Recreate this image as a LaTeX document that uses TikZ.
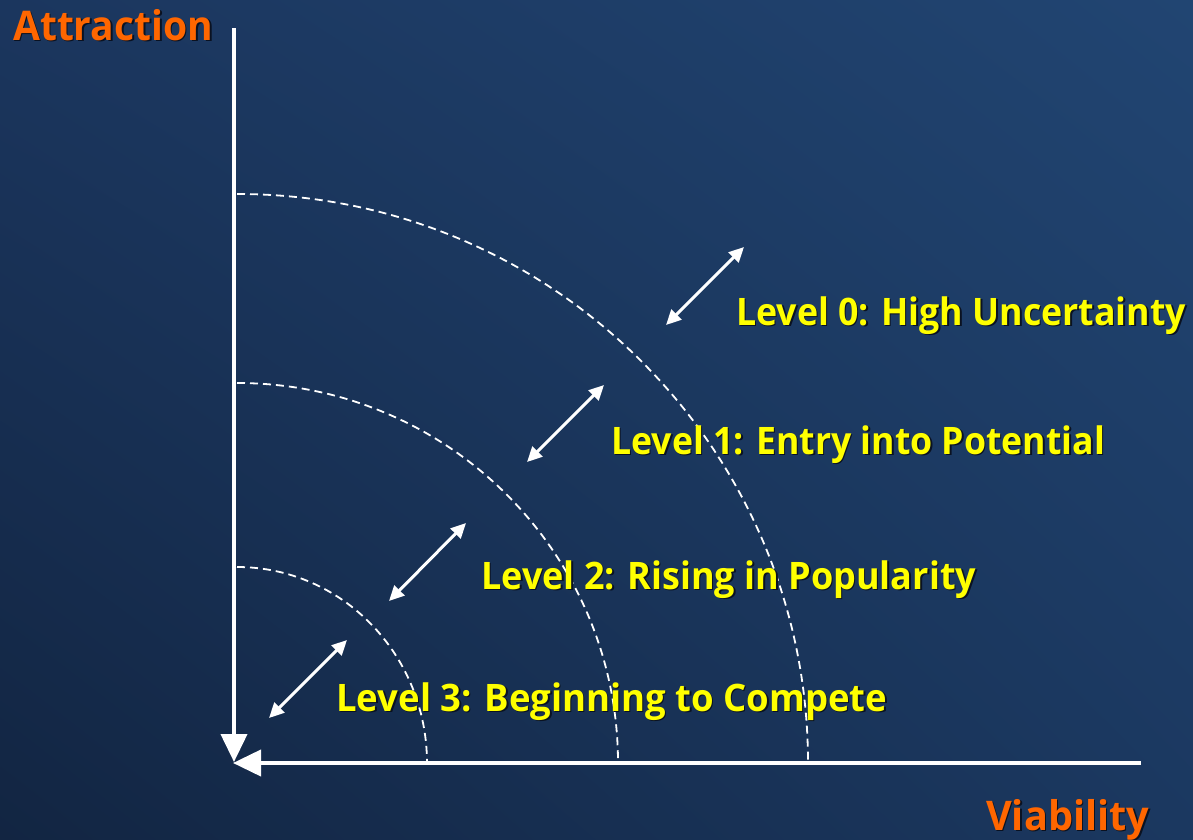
\documentclass[tikz,border=0pt]{standalone}
\usepackage{fontspec}
\usepackage{graphicx}
\setmainfont{Open Sans}
\usetikzlibrary{arrows.meta,shadings}

\definecolor{bgUL}{RGB}{27,54,94}
\definecolor{bgUR}{RGB}{33,69,114}
\definecolor{bgLL}{RGB}{18,37,66}
\definecolor{bgLR}{RGB}{27,56,96}
\definecolor{lvlyellow}{RGB}{255,255,0}
\definecolor{axisorange}{RGB}{255,102,0}
\definecolor{txtshadow}{RGB}{10,18,34}

% horizontal fit of a label to a given width
\newsavebox\lblbox
\newcommand\fitw[2]{\sbox\lblbox{#2}%
  \pgfmathsetmacro\lblsx{#1/\the\wd\lblbox}%
  \scalebox{\lblsx}[1]{\usebox\lblbox}}
% text with a soft drop shadow
\newcommand\shtext[1]{\makebox[0pt][l]{\kern1.6bp\raisebox{-1.6bp}{\textcolor{txtshadow}{#1}}}#1}

\tikzset{
  axisline/.style={draw=white, line width=4bp, -{Triangle[length=28bp,width=26bp]}},
  dasharc/.style={draw=white, line width=1.8bp, dash pattern=on 8bp off 5bp},
  twoway/.style={draw=white, line width=3bp,
    {Triangle[length=15bp,width=14bp]}-{Triangle[length=15bp,width=14bp]}},
  lvl/.style={anchor=base west, inner sep=0pt, text=lvlyellow,
    font=\bfseries\fontsize{38}{40}\selectfont},
  axlbl/.style={anchor=base west, inner sep=0pt, text=axisorange,
    font=\bfseries\fontsize{41}{44}\selectfont},
}

\begin{document}
\begin{tikzpicture}[x=1bp, y=-1bp]
  \useasboundingbox (0,0) rectangle (1193,840);
  \shade[upper left=bgUL, upper right=bgUR, lower left=bgLL, lower right=bgLR]
    (0,0) rectangle (1193,840);

  % axes
  \coordinate (origin) at (234,762);
  \coordinate (ytop) at (234,28);
  \coordinate (xend) at (1141,763);
  \coordinate (arccenter) at (237,763);
  \draw[axisline] (ytop) -- (origin);
  \draw[axisline] (xend) -- (233,763);

  % level boundaries
  \draw[dasharc] (arccenter) ++(0,-569) arc[start angle=-90, end angle=0, x radius=571, y radius=569];
  \draw[dasharc] (arccenter) ++(0,-380) arc[start angle=-90, end angle=0, x radius=381, y radius=380];
  \draw[dasharc] (arccenter) ++(0,-196) arc[start angle=-90, end angle=0, x radius=190, y radius=196];

  % transitions between levels
  \coordinate (a0s) at (666,325); \coordinate (a0e) at (744,247);
  \coordinate (a1s) at (527,462); \coordinate (a1e) at (604,385);
  \coordinate (a2s) at (389,601); \coordinate (a2e) at (466,523);
  \coordinate (a3s) at (269,718); \coordinate (a3e) at (347,640);
  \draw[twoway] (a0s) -- (a0e);
  \draw[twoway] (a1s) -- (a1e);
  \draw[twoway] (a2s) -- (a2e);
  \draw[twoway] (a3s) -- (a3e);

  % labels
  \node[lvl] (lvl0) at (736,325) {\fitw{450bp}{\shtext{Level 0: High Uncertainty}}};
  \node[lvl] (lvl1) at (611,454) {\fitw{494bp}{\shtext{Level 1: Entry into Potential}}};
  \node[lvl] (lvl2) at (481,589) {\fitw{495bp}{\shtext{Level 2: Rising in Popularity}}};
  \node[lvl] (lvl3) at (336,711) {\fitw{551bp}{\shtext{Level 3: Beginning to Compete}}};
  \node[axlbl] (ylbl) at (13,40) {\fitw{200bp}{\shtext{Attraction}}};
  \node[axlbl] (xlbl) at (986,830) {\fitw{163bp}{\shtext{Viability}}};
\end{tikzpicture}
\end{document}
